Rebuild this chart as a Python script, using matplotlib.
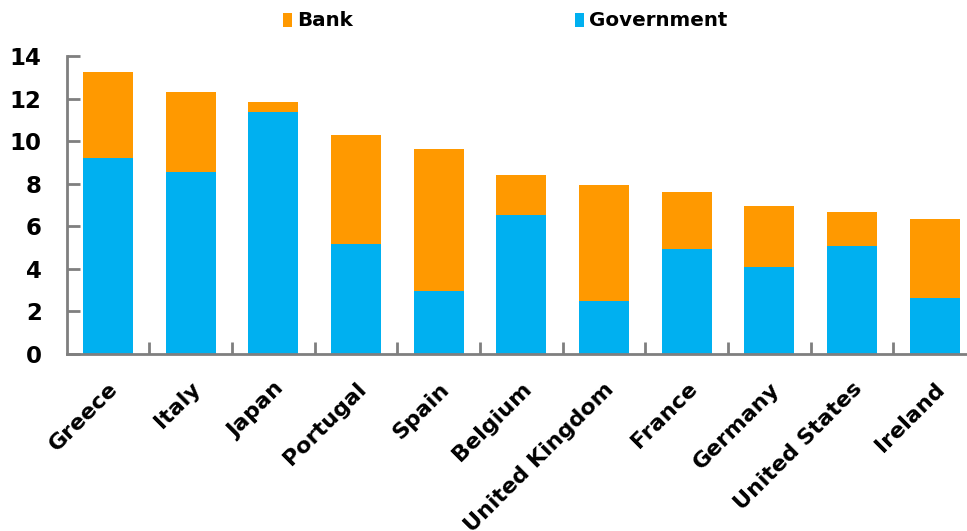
import matplotlib
matplotlib.use("Agg")
import matplotlib.pyplot as plt
from matplotlib.patches import Patch

countries = ["Greece", "Italy", "Japan", "Portugal", "Spain", "Belgium",
             "United Kingdom", "France", "Germany", "United States", "Ireland"]
government = [9.23, 8.55, 11.39, 5.18, 2.97, 6.51, 2.48, 4.93, 4.08, 5.08, 2.61]
total = [13.26, 12.31, 11.85, 10.30, 9.64, 8.43, 7.96, 7.60, 6.95, 6.67, 6.34]
bank = [t - g for t, g in zip(total, government)]
yticks = [0, 2, 4, 6, 8, 10, 12, 14]

ORANGE = "#FF9900"
BLUE = "#00B0F0"
AXIS = "#7f7f7f"

fig = plt.figure(figsize=(9.67, 5.31), dpi=100)
ax = fig.add_axes([66.7 / 967, 1 - 353.7 / 531, 909.3 / 967, (353.7 - 56.3) / 531])

x = list(range(len(countries)))
ax.bar(x, government, width=0.605, color=BLUE, linewidth=0)
ax.bar(x, bank, width=0.605, bottom=government, color=ORANGE, linewidth=0)

ax.set_xlim(-0.5, len(countries) - 0.5)
ax.set_ylim(0, 14)
ax.set_yticks(yticks)
ax.set_yticklabels([str(v) for v in yticks], fontsize=16.5, fontweight="bold")

# category boundaries carry the x tick marks; labels sit at bar centres
ax.set_xticks([i + 0.5 for i in x[:-1]] + [len(countries) - 0.5])
ax.set_xticklabels([])
ax.set_xticks(x, minor=True)
ax.set_xticklabels(countries, minor=True, rotation=45, ha="right",
                   rotation_mode="anchor", fontsize=16, fontweight="bold")
ax.tick_params(axis="x", which="minor", length=0, pad=18)
ax.tick_params(axis="x", which="major", direction="in", length=9, width=2, color=AXIS)
ax.tick_params(axis="y", direction="in", length=9, width=2, color=AXIS, pad=18)

for side in ("top", "right"):
    ax.spines[side].set_visible(False)
for side in ("left", "bottom"):
    ax.spines[side].set_color(AXIS)
    ax.spines[side].set_linewidth(2)

handles = [Patch(facecolor=ORANGE, label="Bank"),
           Patch(facecolor=BLUE, label="Government")]
fig.legend(handles=handles, loc="center", bbox_to_anchor=(505 / 967, 1 - 21 / 531),
           ncol=2, frameon=False, prop={"weight": "bold", "size": 14.3},
           handlelength=0.45, handleheight=0.7, handletextpad=0.25,
           columnspacing=11.2, borderaxespad=0)

fig.savefig("out.png", dpi=100)
